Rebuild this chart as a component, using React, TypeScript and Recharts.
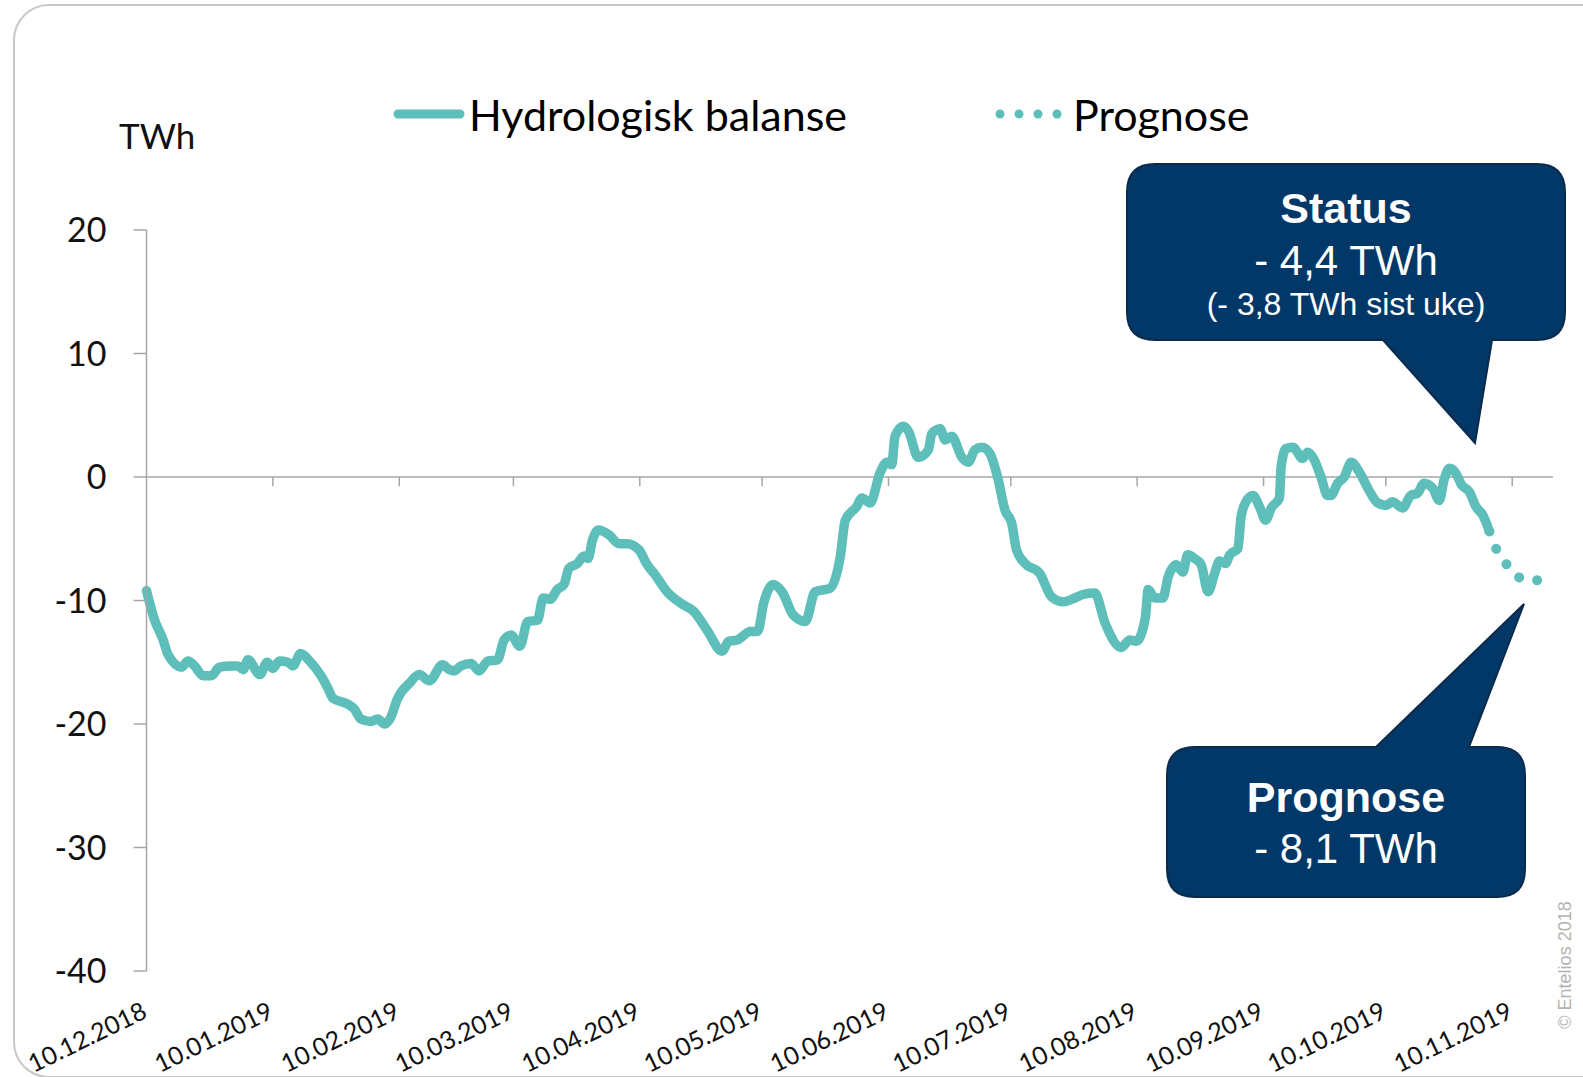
import { LineChart, Line, XAxis, YAxis, ReferenceLine, Legend } from "recharts";

// days counted from 10.12.2018
const balanceDays = [
  0, 2.0, 4.1, 5.3, 8.6, 10.2, 11.8, 13.9, 15.9, 17.9, 20.8, 22.4, 23.7, 24.9, 27.8, 29.6, 31.0, 32.6, 34.7, 35.9,
  37.8, 40.0, 42.8, 44.5, 45.7, 49.4, 51.0, 52.6, 55.0, 56.7, 58.4, 60.0, 61.5, 64.5, 66.9, 69.4, 72.6, 74.3, 75.5, 77.1,
  79.6, 81.6, 83.7, 86.1, 87.7, 89.4, 91.6, 93.5, 95.9, 97.3, 99.0, 100.8, 102.4, 103.6, 105.7, 107.3, 108.3, 109.4, 110.8, 113.5,
  115.9, 117.9, 120.8, 122.8, 124.5, 127.7, 131.4, 134.3, 137.5, 141.2, 142.8, 144.9, 148.1, 149.9, 151.4, 153.7, 155.9, 158.7, 161.6, 164.0,
  167.7, 170.2, 171.4, 174.2, 175.5, 177.5, 180.0, 181.6, 182.8, 183.6, 185.7, 186.9, 189.3, 191.8, 192.6, 194.7, 195.9, 197.5, 200.0, 201.6,
  203.2, 204.9, 206.9, 208.9, 210.6, 212.2, 213.4, 215.5, 219.1, 222.0, 224.9, 227.7, 229.8, 232.6, 235.1, 239.1, 241.2, 242.8, 245.0, 245.7,
  247.3, 249.3, 250.6, 252.6, 254.2, 255.4, 257.1, 258.7, 260.4, 262.0, 263.2, 264.7, 265.7, 267.7, 268.5, 269.7, 271.4, 273.0, 274.5, 275.9,
  277.9, 278.3, 279.5, 281.2, 283.6, 284.8, 286.1, 288.1, 289.7, 290.5, 292.2, 293.8, 295.5, 297.5, 299.9, 302.0, 304.0, 305.6, 308.1, 310.1,
  311.8, 313.4, 315.5, 317.1, 318.3, 319.6, 321.2, 322.5, 324.5, 326.1, 327.8, 329.4,
];
const balanceValues = [
  -9.2, -11.6, -13.2, -14.4, -15.4, -14.9, -15.3, -16.1, -16.1, -15.4, -15.3, -15.3, -15.6, -14.8, -16.0, -15.0, -15.5, -14.9, -15.0, -15.3,
  -14.3, -14.9, -16.1, -17.1, -17.9, -18.4, -18.8, -19.6, -19.8, -19.6, -20.0, -19.4, -18.0, -16.7, -16.0, -16.5, -15.2, -15.6, -15.7, -15.3,
  -15.1, -15.7, -14.9, -14.8, -13.2, -12.8, -13.7, -11.7, -11.6, -9.8, -9.9, -9.1, -8.7, -7.4, -7.0, -6.4, -6.6, -5.1, -4.3, -4.7,
  -5.4, -5.4, -5.9, -7.1, -7.8, -9.3, -10.3, -10.9, -12.4, -14.1, -13.3, -13.2, -12.5, -12.5, -10.2, -8.7, -9.3, -11.2, -11.7, -9.3,
  -9.0, -6.4, -3.5, -2.4, -1.7, -2.1, 0.4, 1.2, 1.0, 3.3, 4.1, 3.7, 1.6, 2.2, 3.5, 3.9, 3.0, 3.3, 1.6, 1.2,
  2.2, 2.4, 1.9, -0.2, -2.7, -3.7, -5.9, -7.0, -7.8, -9.7, -10.1, -9.8, -9.5, -9.4, -11.8, -13.8, -13.2, -13.3, -11.4, -9.1,
  -9.8, -9.8, -8.1, -7.1, -7.7, -6.3, -6.6, -7.1, -9.3, -7.8, -6.8, -7.0, -6.3, -5.8, -3.2, -2.0, -1.5, -2.4, -3.5, -2.5,
  -1.7, 0.8, 2.3, 2.4, 1.5, 2.0, 1.6, 0.0, -1.5, -1.5, -0.5, 0.0, 1.2, 0.4, -1.1, -2.1, -2.3, -2.0, -2.5, -1.5,
  -1.3, -0.5, -0.9, -1.9, -0.2, 0.7, 0.3, -0.6, -1.2, -2.4, -3.1, -4.4,
];
const prognoseDays = [329.4, 330.2, 332.7, 335.6, 339.7, 344.5];
const prognoseValues = [-4.4, -5.2, -6.6, -7.9, -8.4, -8.1];

const monthTicks = [0, 31, 62, 90, 121, 151, 182, 212, 243, 274, 304, 335];
const monthLabels = [
  "10.12.2018", "10.01.2019", "10.02.2019", "10.03.2019", "10.04.2019", "10.05.2019",
  "10.06.2019", "10.07.2019", "10.08.2019", "10.09.2019", "10.10.2019", "10.11.2019",
];
const yTicks = [-40, -30, -20, -10, 0, 10, 20];

const TEAL = "#5EBEBA";
const NAVY = "#023867";
const GRID = "#a6a6a6";

const rows = [
  ...balanceDays.map((day, i) => ({ day, balance: balanceValues[i] })),
  ...prognoseDays.map((day, i) => ({ day, prognose: prognoseValues[i] })),
];

const DateTick = ({ x, y, payload }: any) => {
  const idx = monthTicks.indexOf(payload.value);
  return (
    <g transform={`translate(${x + 2},${y + 46})`}>
      <text textAnchor="end" transform="rotate(-26)" fontSize={25} fontFamily="Lato" fill="#111">
        {monthLabels[idx]}
      </text>
    </g>
  );
};

const LegendBox = () => (
  <svg width={1583} height={80} style={{ display: "block" }}>
    <line x1={398} y1={40} x2={460} y2={40} stroke={TEAL} strokeWidth={9} strokeLinecap="round" />
    <text x={469} y={57} fontSize={43} fontFamily="Lato" fill="#000">
      Hydrologisk balanse
    </text>
    {[1000, 1019, 1038, 1057].map((cx) => (
      <circle key={cx} cx={cx} cy={40} r={4.5} fill={TEAL} />
    ))}
    <text x={1073} y={57} fontSize={43} fontFamily="Lato" fill="#000">
      Prognose
    </text>
  </svg>
);

export default function App() {
  return (
    <div
      style={{
        position: "absolute",
        left: 0,
        top: 0,
        width: 1583,
        height: 1077,
        overflow: "hidden",
        background: "#fff",
      }}
    >
      <div
        style={{
          position: "absolute",
          left: 13,
          top: 4,
          width: 1620,
          height: 1070,
          border: "2px solid #c8c8c8",
          borderRadius: 36,
        }}
      />
      <div style={{ position: "absolute", left: 0, top: 0 }}>
        <LineChart width={1583} height={1077} data={rows} margin={{ top: 230, right: 30, bottom: 6, left: 46.5 }}>
          <XAxis
            type="number"
            dataKey="day"
            domain={[0, 345]}
            ticks={monthTicks}
            interval={0}
            tick={<DateTick />}
            tickSize={0}
            tickMargin={0}
            axisLine={false}
            tickLine={false}
            height={100}
          />
          <YAxis
            type="number"
            domain={[-40, 20]}
            ticks={yTicks}
            interval={0}
            width={100}
            tickSize={13}
            tickMargin={27}
            axisLine={{ stroke: GRID, strokeWidth: 1.5 }}
            tickLine={{ stroke: GRID, strokeWidth: 1.5 }}
            tick={{ fill: "#111", fontSize: 34, fontFamily: "Lato" }}
          />
          <ReferenceLine y={0} stroke={GRID} strokeWidth={1.5} />
          {monthTicks.slice(1).map((d) => (
            <ReferenceLine
              key={d}
              segment={[
                { x: d, y: 0 },
                { x: d, y: -0.75 },
              ]}
              stroke={GRID}
              strokeWidth={1.5}
            />
          ))}
          <Legend
            layout="horizontal"
            verticalAlign="middle"
            align="center"
            content={<LegendBox />}
            wrapperStyle={{ top: 74, left: 0, width: 1583, height: 80 }}
          />
          <Line
            type="monotone"
            dataKey="balance"
            name="Hydrologisk balanse"
            stroke={TEAL}
            strokeWidth={9.5}
            strokeLinecap="round"
            strokeLinejoin="round"
            dot={false}
            activeDot={false}
            isAnimationActive={false}
          />
          <Line
            type="monotone"
            dataKey="prognose"
            name="Prognose"
            stroke={TEAL}
            strokeWidth={10}
            strokeDasharray="0.1 18.5"
            strokeLinecap="round"
            dot={false}
            activeDot={false}
            isAnimationActive={false}
          />
        </LineChart>
      </div>
      <svg
        width={1583}
        height={1077}
        style={{ position: "absolute", left: 0, top: 0, pointerEvents: "none" }}
      >
        <text x={119} y={149} fontSize={35} fontFamily="Lato" fill="#111">
          TWh
        </text>
        <path
          d="M 1155 164 H 1537 Q 1565 164 1565 192 V 312 Q 1565 340 1537 340 H 1492 L 1475 443 L 1383 340 H 1155 Q 1127 340 1127 312 V 192 Q 1127 164 1155 164 Z"
          fill={NAVY}
          stroke="#0b2b4c"
          strokeWidth={2}
        />
        <g fontFamily="Liberation Sans, Arial, sans-serif" fill="#fff" textAnchor="middle">
          <text x={1346} y={223} fontSize={43} fontWeight="bold">Status</text>
          <text x={1346} y={275} fontSize={42}>- 4,4 TWh</text>
          <text x={1346} y={315} fontSize={32}>(- 3,8 TWh sist uke)</text>
        </g>
        <path
          d="M 1195 747 H 1376 L 1524 604 L 1469 747 H 1497 Q 1525 747 1525 775 V 869 Q 1525 897 1497 897 H 1195 Q 1167 897 1167 869 V 775 Q 1167 747 1195 747 Z"
          fill={NAVY}
          stroke="#0b2b4c"
          strokeWidth={2}
        />
        <g fontFamily="Liberation Sans, Arial, sans-serif" fill="#fff" textAnchor="middle">
          <text x={1346} y={812} fontSize={43} fontWeight="bold">Prognose</text>
          <text x={1346} y={863} fontSize={42}>- 8,1 TWh</text>
        </g>
        <text
          transform="translate(1571,965) rotate(-90)"
          textAnchor="middle"
          fontSize={18}
          fontFamily="Liberation Sans, Arial, sans-serif"
          fill="#b3b3b3"
        >
          © Entelios 2018
        </text>
      </svg>
    </div>
  );
}
